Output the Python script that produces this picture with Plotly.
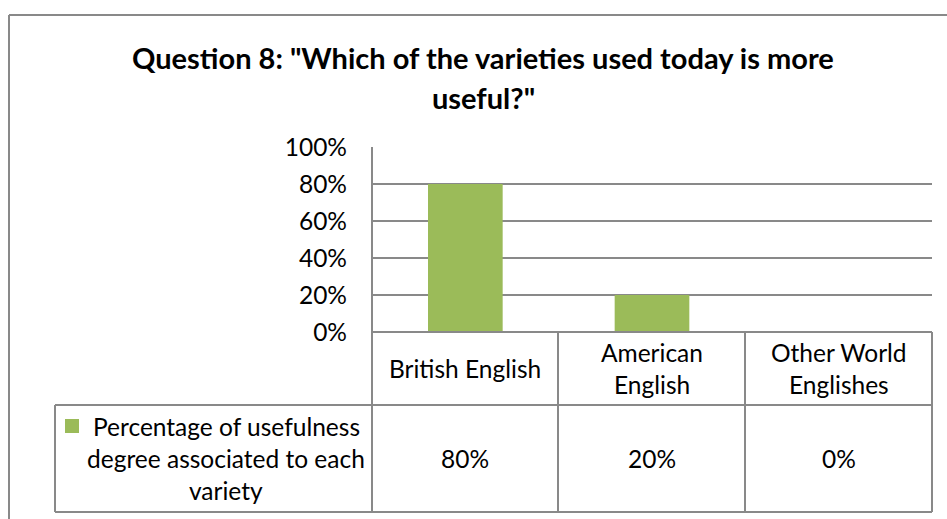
import plotly.graph_objects as go

# Survey results for question 8
categories = ["British English", "American English", "Other World Englishes"]
category_lines = [["British English"], ["American", "English"], ["Other World", "Englishes"]]
values = [0.80, 0.20, 0.00]
series_name = ["Percentage of usefulness", "degree associated to each", "variety"]
title_lines = ['Question 8: "Which of the varieties used today is more', 'useful?"']
y_ticks = [0, 0.2, 0.4, 0.6, 0.8, 1.0]

W, H = 947, 519
BAR = "#9BBB59"
LINE = "#898989"
FONT = "Lato"
TXT = 24.5


def px(x):
    return x / W


def py(y):
    return 1 - y / H


# plot-area / data-table geometry (pixels)
PL, PR, PT, PB = 372, 932, 147, 332
ROW1, ROW2 = 405, 512
LEG_L = 55
COLS = [372, 558, 745, 932]

fig = go.Figure()
fig.add_trace(go.Bar(
    x=categories, y=values, width=0.4, marker=dict(color=BAR, line=dict(width=0)),
    name=" ".join(series_name), showlegend=False, hoverinfo="x+y",
))

fig.update_layout(
    width=W, height=H, margin=dict(l=0, r=0, t=0, b=0, pad=0), autosize=False,
    paper_bgcolor="white", plot_bgcolor="white",
    font=dict(family=FONT, color="black"),
    xaxis=dict(domain=[px(PL), px(PR)], range=[-0.5, 2.5], showticklabels=False,
               showgrid=False, zeroline=False, showline=False, fixedrange=True,
               automargin=False),
    yaxis=dict(domain=[py(PB), py(PT)], range=[0, 1], tickvals=y_ticks, tickformat=".0%",
               showgrid=True, gridcolor=LINE, gridwidth=2, zeroline=False, showline=False,
               ticks="", ticklabelstandoff=24, tickfont=dict(size=TXT, family=FONT, color="black"),
               fixedrange=True, automargin=False),
)

shapes = []


def hline(y, x0, x1):
    shapes.append(dict(type="line", xref="paper", yref="paper", x0=px(x0), x1=px(x1),
                       y0=py(y), y1=py(y), line=dict(color=LINE, width=2)))


def vline(x, y0, y1):
    shapes.append(dict(type="line", xref="paper", yref="paper", x0=px(x), x1=px(x),
                       y0=py(y0), y1=py(y1), line=dict(color=LINE, width=2)))


# outer chart frame (top and left edges visible)
hline(15, 9, W)
vline(9, 15, H)

# value axis line and data table grid
vline(PL, PT, ROW2)
for c in COLS[1:]:
    vline(c, PB, ROW2)
hline(PB, PL, PR)
hline(ROW1, LEG_L, PR)
hline(ROW2, LEG_L, PR)
vline(LEG_L, ROW1, ROW2)

# legend key square
shapes.append(dict(type="rect", xref="paper", yref="paper", x0=px(65), x1=px(79),
                   y0=py(433), y1=py(419), fillcolor=BAR, line=dict(width=0)))
fig.update_layout(shapes=shapes)

ann = []
# title
for i, t in enumerate(title_lines):
    ann.append(dict(text=f"<b>{t}</b>", xref="paper", yref="paper", x=px(483), y=py(57 + 40 * i),
                    xanchor="center", yanchor="middle", showarrow=False,
                    font=dict(size=29, family=FONT, color="black")))

# category labels in the table header row
for cat, lines in zip(categories, category_lines):
    n = len(lines)
    for j, ln in enumerate(lines):
        yc = (PB + ROW1) / 2 + (j - (n - 1) / 2) * 32
        ann.append(dict(text=ln, xref="x", yref="paper", x=cat, y=py(yc),
                        xanchor="center", yanchor="middle", showarrow=False,
                        font=dict(size=TXT, family=FONT, color="black")))

# series name in the legend cell
for j, ln in enumerate(series_name):
    yc = (ROW1 + ROW2) / 2 + (j - 1) * 32
    ann.append(dict(text=ln, xref="paper", yref="paper", x=px(226), y=py(yc),
                    xanchor="center", yanchor="middle", showarrow=False,
                    font=dict(size=TXT, family=FONT, color="black")))

# values in the data row
for cat, v in zip(categories, values):
    ann.append(dict(text=f"{v:.0%}", xref="x", yref="paper", x=cat, y=py((ROW1 + ROW2) / 2),
                    xanchor="center", yanchor="middle", showarrow=False,
                    font=dict(size=TXT, family=FONT, color="black")))

fig.update_layout(annotations=ann)
fig.write_html("out.html")
